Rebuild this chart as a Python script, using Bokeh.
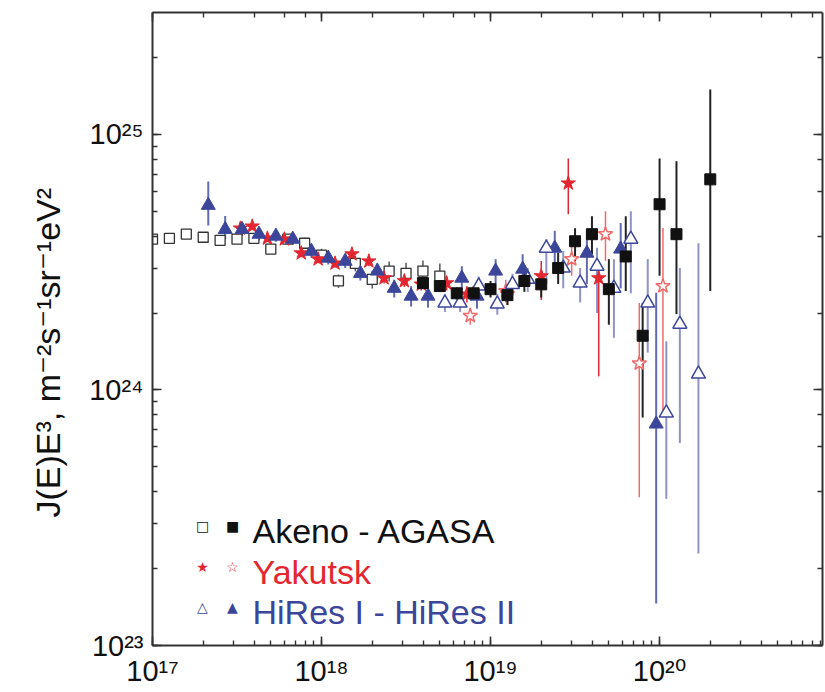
import numpy as np
from bokeh.plotting import figure
from bokeh.models import Range1d, LogAxis, Label, CustomJSTickFormatter, ColumnDataSource, Title
from bokeh.embed import file_html
from bokeh.resources import INLINE

# ---------------- data (energies as log10(E/eV), J E^3 in units of 1e24 m^-2 s^-1 sr^-1 eV^2)
akeno_logE = [17.0, 17.1, 17.2, 17.3, 17.4, 17.5, 17.6, 17.7, 17.8, 17.9, 18.0, 18.1, 18.2, 18.3, 18.4, 18.5, 18.6, 18.7]
akeno_J = [3.89, 3.92, 4.07, 3.96, 3.85, 3.89, 3.92, 3.56, 3.89, 3.75, 3.37, 2.67, 3.13, 2.71, 2.92, 2.86, 2.92, 2.79]
akeno_err = [0.02, 0.02, 0.04, 0.03, 0.03, 0.03, 0.03, 0.04, 0.04, 0.05, 0.06, 0.06, 0.07, 0.08, 0.09, 0.10, 0.10, 0.12]

agasa_logE = [18.6, 18.7, 18.8, 18.9, 19.0, 19.1, 19.2, 19.3, 19.4, 19.5, 19.6, 19.7, 19.8, 19.9, 20.0, 20.1, 20.3]
agasa_J = [2.62, 2.55, 2.39, 2.39, 2.48, 2.35, 2.67, 2.59, 3.00, 3.82, 4.07, 2.48, 3.33, 1.63, 5.33, 4.07, 6.67]
agasa_lo = [2.50, 2.43, 2.26, 2.25, 2.30, 2.15, 2.42, 2.30, 2.60, 3.19, 3.40, 1.80, 2.44, 0.78, 2.80, 1.98, 2.44]
agasa_hi = [2.75, 2.68, 2.52, 2.55, 2.67, 2.56, 2.95, 2.90, 3.45, 4.29, 4.78, 3.25, 4.78, 2.19, 8.05, 7.85, 15.0]

yak_logE = [17.52, 17.59, 17.68, 17.78, 17.88, 17.98, 18.08, 18.18, 18.28, 18.37, 18.49, 18.59, 18.74, 18.86, 19.10, 19.30, 19.46, 19.64]
yak_J = [4.29, 4.37, 3.92, 3.89, 3.43, 3.25, 3.13, 3.40, 3.19, 2.74, 2.67, 2.59, 2.62, 2.37, 2.37, 2.79, 6.44, 2.74]
yak_lo = [4.15, 4.23, 3.79, 3.76, 3.31, 3.13, 3.01, 3.26, 3.05, 2.61, 2.53, 2.45, 2.45, 2.20, 2.15, 2.25, 4.87, 1.13]
yak_hi = [4.43, 4.51, 4.05, 4.02, 3.55, 3.37, 3.25, 3.54, 3.33, 2.87, 2.81, 2.73, 2.79, 2.54, 2.60, 3.20, 8.05, 3.19]

yako_logE = [18.88, 19.09, 19.48, 19.68, 19.88, 20.02]
yako_J = [1.95, 2.44, 3.25, 4.07, 1.27, 2.55]
yako_lo = [1.80, 2.20, 2.80, 3.20, 0.38, 0.83]
yako_hi = [2.10, 2.70, 3.70, 5.00, 2.19, 4.30]

hr2_logE = [17.33, 17.43, 17.53, 17.63, 17.73, 17.83, 17.94, 18.04, 18.14, 18.23, 18.33, 18.43, 18.53, 18.63, 18.83, 18.92, 19.03, 19.19, 19.38, 19.57, 19.77, 19.98]
hr2_J = [5.28, 4.25, 4.25, 4.07, 4.00, 3.89, 3.49, 3.28, 3.19, 2.86, 2.92, 2.50, 2.33, 2.33, 2.74, 2.33, 2.92, 2.97, 3.59, 3.43, 3.56, 0.736]
hr2_lo = [4.40, 3.90, 4.00, 3.85, 3.80, 3.70, 3.30, 3.10, 3.00, 2.68, 2.72, 2.30, 2.12, 2.10, 2.45, 2.08, 2.60, 2.60, 3.00, 2.60, 2.50, 0.146]
hr2_hi = [6.55, 4.80, 4.50, 4.30, 4.20, 4.10, 3.70, 3.46, 3.38, 3.05, 3.12, 2.70, 2.55, 2.56, 3.05, 2.60, 3.25, 3.40, 4.20, 4.20, 4.50, 2.40]

hr1_logE = [18.73, 18.82, 18.93, 19.04, 19.13, 19.22, 19.33, 19.43, 19.53, 19.63, 19.73, 19.83, 19.93, 20.04, 20.12, 20.23]
hr1_J = [2.19, 2.19, 2.55, 2.17, 2.59, 2.71, 3.59, 3.00, 2.62, 3.05, 2.50, 3.89, 2.19, 0.813, 1.81, 1.155]
hr1_lo = [2.02, 2.02, 2.33, 1.97, 2.35, 2.42, 2.60, 2.50, 2.20, 2.00, 1.60, 2.39, 1.40, 0.375, 0.62, 0.229]
hr1_hi = [2.37, 2.37, 2.78, 2.38, 2.85, 3.00, 3.90, 3.50, 3.00, 3.60, 3.25, 5.00, 3.25, 1.55, 3.00, 3.75]

legend_rows = ["Akeno - AGASA", "Yakutsk", "HiRes I - HiRes II"]
y_title = "J(E)E³, m⁻²s⁻¹sr⁻¹eV²"

UNIT = 1e24
BLACK = "#111111"
RED = "#e3262f"
RED_LIGHT = "#ef6a6a"
BLUE = "#3b469b"
BLUE_BAR = "#7b80bb"
FONT = "Liberation Sans, DejaVu Sans"


def src(logE, J, lo=None, hi=None, err=None):
    E = 10 ** np.array(logE)
    J = np.array(J) * UNIT
    if err is not None:
        lo = J * (1 - np.array(err))
        hi = J * (1 + np.array(err))
    else:
        lo = np.array(lo) * UNIT
        hi = np.array(hi) * UNIT
    return ColumnDataSource(dict(E=E, J=J, lo=lo, hi=hi))


p = figure(width=825, height=691, x_axis_type="log", y_axis_type="log",
           x_range=Range1d(1e17, 10 ** 20.964), y_range=Range1d(1e23, 3e25),
           output_backend="svg", toolbar_location=None,
           min_border_left=152, min_border_right=3, min_border_top=12, min_border_bottom=46)
p.grid.visible = False
p.outline_line_color = None
p.background_fill_color = "white"
p.border_fill_color = "white"

fmt = CustomJSTickFormatter(code="""
const sup = {"0":"\u2070","1":"\u00b9","2":"\u00b2","3":"\u00b3","4":"\u2074","5":"\u2075","6":"\u2076","7":"\u2077","8":"\u2078","9":"\u2079","-":"\u207b"};
const e = Math.round(Math.log10(tick));
return "10" + String(e).split("").map(c => sup[c]).join("");
""")


def style(ax, labels=True):
    ax.axis_line_width = 2
    ax.axis_line_color = "#333333"
    ax.major_tick_in = 9
    ax.major_tick_out = 0
    ax.minor_tick_in = 5
    ax.minor_tick_out = 0
    ax.major_tick_line_width = 1.6
    ax.minor_tick_line_width = 1.4
    ax.major_tick_line_color = "#333333"
    ax.minor_tick_line_color = "#333333"
    ax.major_label_text_font = FONT
    ax.major_label_text_color = "#111111"
    if labels:
        ax.major_label_text_font_size = "29px"
        ax.formatter = fmt
    else:
        ax.major_label_text_font_size = "1px"
        ax.major_label_text_alpha = 0
        ax.major_label_standoff = 0


style(p.xaxis[0])
p.xaxis[0].major_label_standoff = 9
style(p.yaxis[0])
p.yaxis[0].major_label_standoff = 9

top = LogAxis()
right = LogAxis()
style(top, labels=False)
style(right, labels=False)
p.add_layout(top, "above")
p.add_layout(right, "right")

# y-axis title
p.add_layout(Title(text=y_title, align="left", offset=128, standoff=36, vertical_align="top",
                   text_font=FONT, text_font_size="34px", text_font_style="normal",
                   text_color="#111111"), "left")

s_akeno = src(akeno_logE, akeno_J, err=akeno_err)
s_agasa = src(agasa_logE, agasa_J, agasa_lo, agasa_hi)
s_yak = src(yak_logE, yak_J, yak_lo, yak_hi)
s_yako = src(yako_logE, yako_J, yako_lo, yako_hi)
s_hr2 = src(hr2_logE, hr2_J, hr2_lo, hr2_hi)
s_hr1 = src(hr1_logE, hr1_J, hr1_lo, hr1_hi)

# error bars
p.segment(x0="E", y0="lo", x1="E", y1="hi", source=s_akeno, line_color="#555555", line_width=1.5)
p.segment(x0="E", y0="lo", x1="E", y1="hi", source=s_hr1, line_color=BLUE_BAR, line_width=2, line_alpha=0.85)
p.segment(x0="E", y0="lo", x1="E", y1="hi", source=s_hr2, line_color=BLUE, line_width=2, line_alpha=0.8)
p.segment(x0="E", y0="lo", x1="E", y1="hi", source=s_yako, line_color=RED_LIGHT, line_width=1.5)
p.segment(x0="E", y0="lo", x1="E", y1="hi", source=s_yak, line_color=RED, line_width=1.5)
p.segment(x0="E", y0="lo", x1="E", y1="hi", source=s_agasa, line_color="#222222", line_width=2)

# markers
p.scatter("E", "J", source=s_akeno, marker="square", size=10, fill_color="white",
          line_color="#333333", line_width=1.3)
p.scatter("E", "J", source=s_yak, marker="star", size=15, fill_color=RED, line_color=RED, line_width=1)
p.scatter("E", "J", source=s_yako, marker="star", size=15, fill_color="white", line_color=RED_LIGHT, line_width=1.5)
p.scatter("E", "J", source=s_hr2, marker="triangle", size=14, fill_color=BLUE, line_color=BLUE, line_width=1)
p.scatter("E", "J", source=s_hr1, marker="triangle", size=14, fill_color="white", line_color=BLUE, line_width=1.5)
p.scatter("E", "J", source=s_agasa, marker="square", size=11, fill_color=BLACK, line_color=BLACK)

# legend (marker glyphs as text + labels), positions relative to the frame
rows = [
    (115, "□", "■", legend_rows[0], "#111111"),
    (74, "★", "☆", legend_rows[1], RED),
    (34, "△", "▲", legend_rows[2], BLUE),
]
for y, m1, m2, t, c in rows:
    p.add_layout(Label(x=50, y=y + 5, x_units="screen", y_units="screen", text=m1, text_align="center",
                       text_baseline="middle", text_font="DejaVu Sans", text_font_size="14px", text_color=c))
    p.add_layout(Label(x=80, y=y + 5, x_units="screen", y_units="screen", text=m2, text_align="center",
                       text_baseline="middle", text_font="DejaVu Sans", text_font_size="14px", text_color=c))
    p.add_layout(Label(x=100, y=y, x_units="screen", y_units="screen", text=t, text_align="left",
                       text_baseline="middle", text_font=FONT, text_font_size="34px", text_color=c))

open("out.html", "w").write(file_html(p, INLINE))
